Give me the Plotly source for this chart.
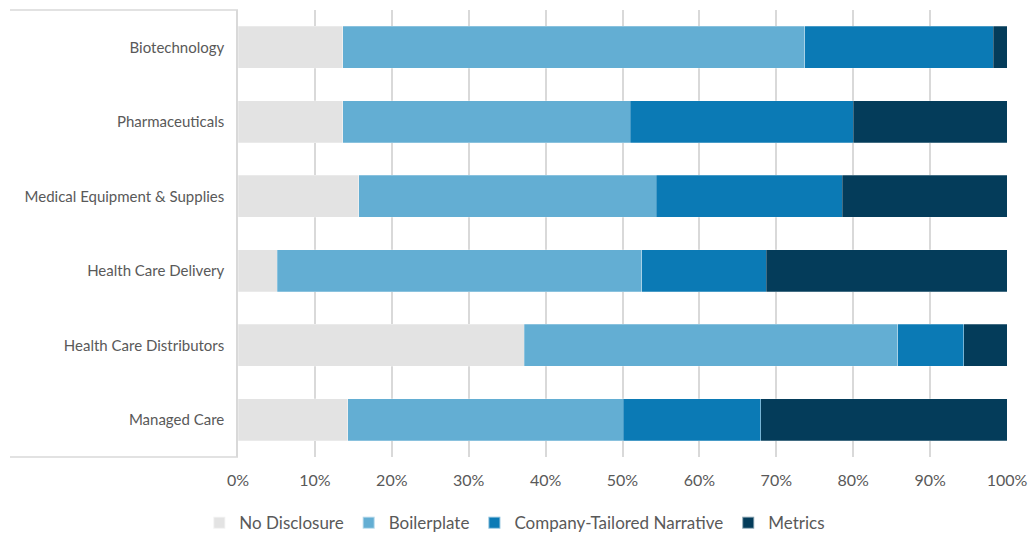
import plotly.graph_objects as go

categories = ["Biotechnology", "Pharmaceuticals", "Medical Equipment & Supplies",
              "Health Care Delivery", "Health Care Distributors", "Managed Care"]
no_disclosure = [13.6, 13.6, 15.7, 5.1, 37.2, 14.3]
boilerplate = [60.1, 37.4, 38.7, 47.4, 48.6, 35.8]
company_tailored = [24.5, 29.0, 24.2, 16.2, 8.6, 17.9]
metrics = [1.8, 20.0, 21.4, 31.3, 5.6, 32.0]

series = [
    ("No Disclosure", no_disclosure, "#e3e3e3"),
    ("Boilerplate", boilerplate, "#63aed3"),
    ("Company-Tailored Narrative", company_tailored, "#0b7ab5"),
    ("Metrics", metrics, "#043c5a"),
]

fig = go.Figure()
for name, vals, color in series:
    fig.add_trace(go.Bar(
        y=categories, x=[v / 100 for v in vals], name=name, orientation="h",
        marker=dict(color=color, line=dict(color="rgba(255,255,255,0.5)", width=0.5)),
        hovertemplate="%{y}: %{x:.1%}<extra>" + name + "</extra>",
    ))

fig.update_layout(
    barmode="stack",
    bargap=0.44,
    width=1029, height=533,
    margin=dict(l=238, r=22, t=10, b=76, autoexpand=False),
    paper_bgcolor="white", plot_bgcolor="white",
    font=dict(family="Lato, 'Open Sans', sans-serif", size=15, color="#595959"),
    legend=dict(orientation="h", x=0.36, xanchor="center", y=-0.148, yanchor="middle",
                font=dict(size=17, color="#595959"), traceorder="normal",
                itemwidth=30, itemsizing="constant"),
    showlegend=True,
)
fig.update_xaxes(range=[0, 1], dtick=0.1, tickformat=".0%", showgrid=True,
                 gridcolor="#d9d9d9", gridwidth=1.5, zeroline=False,
                 showline=False, ticks="", ticklabelstandoff=12, automargin=False,
                 tickfont=dict(size=16, color="#595959"))
fig.update_yaxes(categoryorder="array", categoryarray=categories, autorange="reversed",
                 showline=True, linecolor="#d9d9d9", linewidth=1.5, showgrid=False,
                 ticks="", ticklabelstandoff=9, automargin=False,
                 tickfont=dict(size=15, color="#595959"))

for yv in (0, 1):
    fig.add_shape(type="line", xref="paper", yref="paper", x0=-0.2965, x1=0, y0=yv, y1=yv,
                  line=dict(color="#d9d9d9", width=1.5), layer="below")

fig.write_html("out.html")
